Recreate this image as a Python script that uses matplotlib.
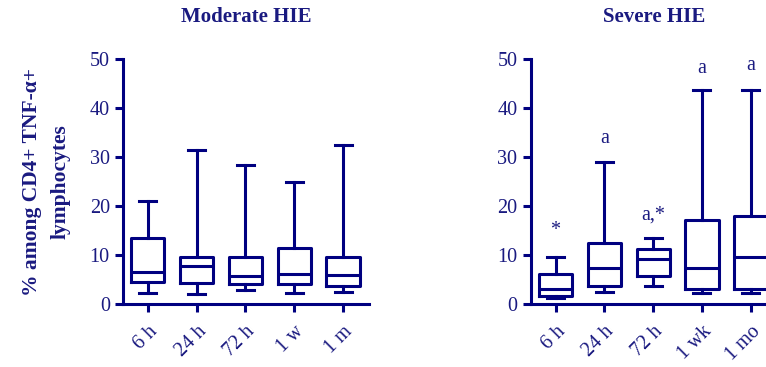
import numpy as np
import matplotlib
matplotlib.use("Agg")
from matplotlib import pyplot as plt

plt.rcParams['font.family'] = ['Liberation Serif', 'DejaVu Serif']

navy = "#000080"

labels_mod = ["6 h", "24 h", "72 h", "1 w", "1 m"]
labels_sev = ["6 h", "24 h", "72 h", "1 wk", "1 mo"]

# whisker low, Q1, median, Q3, whisker high
moderate_low = [2.2, 2.0, 2.8, 2.2, 2.4]
moderate_q1 = [4.4, 4.2, 4.0, 4.0, 3.7]
moderate_med = [6.6, 7.8, 5.7, 6.1, 5.9]
moderate_q3 = [13.4, 9.7, 9.5, 11.4, 9.6]
moderate_high = [21.0, 31.4, 28.5, 24.9, 32.4]

severe_low = [1.2, 2.5, 3.6, 2.3, 2.3]
severe_q1 = [1.7, 3.7, 5.8, 3.1, 3.1]
severe_med = [3.0, 7.4, 9.2, 7.4, 9.5]
severe_q3 = [6.2, 12.5, 11.2, 17.2, 18.0]
severe_high = [9.7, 29.1, 13.4, 43.7, 43.7]

severe_marks = ["*", "a", "a,*", "a", "a"]
severe_mark_y = [15.1, 33.9, 18.2, 48.2, 48.7]


def stats(low, q1, med, q3, high):
    out = []
    for i in range(len(low)):
        out.append({"whislo": low[i], "q1": q1[i], "med": med[i],
                    "q3": q3[i], "whishi": high[i], "fliers": []})
    return out


def draw(ax, st, labels):
    lw = 2.2
    ax.bxp(st, positions=range(len(st)), widths=0.68, capwidths=0.35,
           showfliers=False,
           boxprops=dict(color=navy, linewidth=lw),
           whiskerprops=dict(color=navy, linewidth=lw),
           capprops=dict(color=navy, linewidth=lw),
           medianprops=dict(color=navy, linewidth=lw))
    ax.set_xlim(-0.51, 4.53)
    ax.set_ylim(0, 50)
    ax.set_yticks([0, 10, 20, 30, 40, 50])
    ax.set_xticks(range(len(labels)))
    ax.set_xticklabels(labels, rotation=45, ha="right", va="top",
                       rotation_mode="anchor")
    for s in ["top", "right"]:
        ax.spines[s].set_visible(False)
    for s in ["left", "bottom"]:
        ax.spines[s].set_color(navy)
        ax.spines[s].set_linewidth(lw)
    ax.tick_params(colors=navy, width=lw, length=6, labelsize=14.5,
                   labelcolor="#1a1a80")
    ax.tick_params(axis="x", pad=7)


fig = plt.figure(figsize=(7.66, 3.67), dpi=100)
ax1 = fig.add_axes([0.1606, 0.1717, 0.321, 0.6667])
ax2 = fig.add_axes([0.6928, 0.1717, 0.321, 0.6667])

draw(ax1, stats(moderate_low, moderate_q1, moderate_med, moderate_q3, moderate_high), labels_mod)
draw(ax2, stats(severe_low, severe_q1, severe_med, severe_q3, severe_high), labels_sev)

ax1.set_title("Moderate HIE", fontsize=15, fontweight="bold", color="#1a1a80", y=1.12)
ax2.set_title("Severe HIE", fontsize=15, fontweight="bold", color="#1a1a80", y=1.12)
ax1.set_ylabel("% among CD4+ TNF-α+\nlymphocytes", fontsize=15.5, fontweight="bold",
               color="#1a1a80", labelpad=14, linespacing=1.55)

for i, m in enumerate(severe_marks):
    ax2.text(i, severe_mark_y[i], m, ha="center", va="center", fontsize=14.5,
             color="#1a1a80", clip_on=False)

fig.savefig("out.png", dpi=100)
